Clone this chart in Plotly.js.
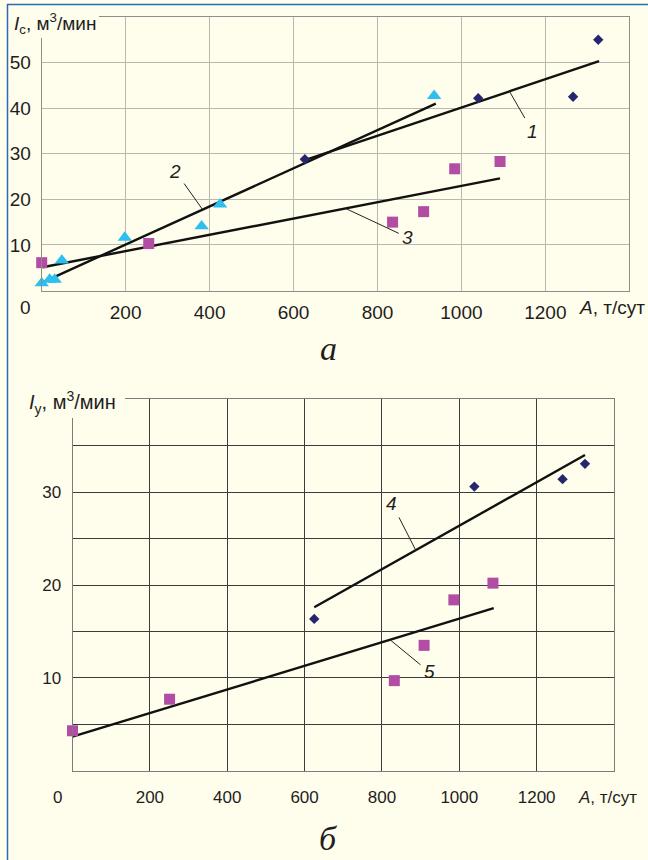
<!DOCTYPE html>
<html><head><meta charset="utf-8">
<script src="https://cdn.plot.ly/plotly-3.0.1.min.js"></script>
<style>html,body{margin:0;padding:0;background:#fffdeb;}</style>
</head><body><div id="chart" style="width:648px;height:860px;"></div>
<script>
// ---- Chart a (I_c) ----
const s1x = [627, 1040, 1266, 1326];
const s1y = [28.8, 42.2, 42.5, 55.0];
const s2x = [0, 19, 31, 48, 198, 381, 425, 935];
const s2y = [1.6, 2.4, 2.4, 6.6, 11.6, 14.1, 18.9, 42.7];
const s3x = [0, 255, 836, 910, 984, 1092];
const s3y = [6.1, 10.3, 15.0, 17.3, 26.7, 28.3];
const fit1x = [627, 1328], fit1y = [28.6, 50.3];
const fit2x = [2, 939],    fit2y = [1.8, 41.0];
const fit3x = [2, 1092],   fit3y = [5.1, 24.6];
// ---- Chart б (I_y) ----
const s4x = [625, 1039, 1267, 1325];
const s4y = [16.35, 30.6, 31.4, 33.05];
const s5x = [0, 251, 832, 909, 986, 1087];
const s5y = [4.3, 7.7, 9.7, 13.5, 18.4, 20.2];
const fit4x = [625, 1325], fit4y = [17.6, 34.0];
const fit5x = [0, 1089],   fit5y = [3.66, 17.5];
// ---- tick labels ----
const xTickVals = [0, 200, 400, 600, 800, 1000, 1200];
const xTickText = ['0', '200', '400', '600', '800', '1000', '1200'];
const yTickValsA = [10, 20, 30, 40, 50];
const yTickTextA = ['10', '20', '30', '40', '50'];
const yTickValsB = [10, 20, 30];
const yTickTextB = ['10', '20', '30'];
const yGridStepB = 5;
// curve labels: [label, x, y (on line), dx, dy]
const labelsA = [['1', 1115, 43.6, 23, 40], ['2', 383, 17.8, -27, -38], ['3', 724, 18.0, 62, 29]];
const labelsB = [['4', 888, 23.7, -24, -47], ['5', 821, 14.1, 39, 32]];

const BG = '#fffdeb';
const SANS = 'Liberation Sans, Arial, sans-serif';
const W = 648, H = 860;
const px = v => v / W, py = v => 1 - v / H;

const navy = '#26266e', cyan = '#2dbff0', magenta = '#b34ca3';
function mk(x, y, sym, size, color, xa, ya) {
  return {x, y, type: 'scatter', mode: 'markers', xaxis: xa, yaxis: ya, cliponaxis: false,
    marker: {symbol: sym, size, color}, showlegend: false, hoverinfo: 'skip'};
}
function ln(x, y, xa, ya) {
  return {x, y, type: 'scatter', mode: 'lines', xaxis: xa, yaxis: ya,
    line: {color: '#111', width: 2.4}, showlegend: false, hoverinfo: 'skip'};
}
const traces = [
  ln(fit1x, fit1y, 'x', 'y'), ln(fit2x, fit2y, 'x', 'y'), ln(fit3x, fit3y, 'x', 'y'),
  mk(s1x, s1y, 'diamond', 8, navy, 'x', 'y'),
  mk(s2x, s2y, 'triangle-up', 12.5, cyan, 'x', 'y'),
  mk(s3x, s3y, 'square', 11, magenta, 'x', 'y'),
  ln(fit4x, fit4y, 'x2', 'y2'), ln(fit5x, fit5y, 'x2', 'y2'),
  mk(s4x, s4y, 'diamond', 8, navy, 'x2', 'y2'),
  mk(s5x, s5y, 'square', 11, magenta, 'x2', 'y2')
];

function axis(domain, range, tv, tt, font, grid, line, anchor, standoff) {
  return {domain, range, tickmode: 'array', tickvals: tv, ticktext: tt, tickfont: font,
    showgrid: true, gridcolor: grid, gridwidth: 1, zeroline: false,
    showline: true, linecolor: line, linewidth: 1, mirror: true,
    ticks: '', anchor, fixedrange: true, ticklabelstandoff: standoff};
}
const fontA = {family: SANS, size: 19, color: '#1e1e1e'};
const fontB = {family: SANS, size: 17, color: '#1e1e1e'};

const ann = [];
// x "0" labels offset to the left of the axis
ann.push({xref: 'paper', yref: 'paper', x: px(25), y: py(307), text: xTickText[0], showarrow: false, font: fontA, xanchor: 'center', yanchor: 'middle'});
ann.push({xref: 'paper', yref: 'paper', x: px(57), y: py(797), text: xTickText[0], showarrow: false, font: fontB, xanchor: 'center', yanchor: 'middle'});
// axis titles
ann.push({xref: 'paper', yref: 'paper', x: px(577), y: py(307), text: '<i>A</i>, т/сут', showarrow: false, font: fontA, xanchor: 'left', yanchor: 'middle'});
ann.push({xref: 'paper', yref: 'paper', x: px(576), y: py(797), text: '<i>A</i>, т/сут', showarrow: false, font: fontB, xanchor: 'left', yanchor: 'middle'});
ann.push({xref: 'paper', yref: 'paper', x: px(12), y: py(23), text: '<i>I</i><sub>с</sub>, м<sup>3</sup>/мин', showarrow: false, font: {family: SANS, size: 19, color: '#1e1e1e'}, xanchor: 'left', yanchor: 'middle'});
ann.push({xref: 'paper', yref: 'paper', x: px(27), y: py(402), text: '<i>I</i><sub>у</sub>, м<sup>3</sup>/мин', showarrow: false, font: {family: SANS, size: 20, color: '#1e1e1e'}, xanchor: 'left', yanchor: 'middle'});
// captions
ann.push({xref: 'paper', yref: 'paper', x: px(328), y: py(348), text: '<i>а</i>', showarrow: false, font: {family: 'Liberation Serif, serif', size: 34, color: '#1e1e1e'}, xanchor: 'center', yanchor: 'middle'});
ann.push({xref: 'paper', yref: 'paper', x: px(328), y: py(838), text: '<i>б</i>', showarrow: false, font: {family: 'Liberation Serif, serif', size: 34, color: '#1e1e1e'}, xanchor: 'center', yanchor: 'middle'});
// curve labels with leader lines
function curveLabels(list, xa, ya, font) {
  list.forEach(([t, x, y, dx, dy]) => ann.push({xref: xa, yref: ya, x, y, ax: dx, ay: dy, text: '<i>' + t + '</i>',
    showarrow: true, arrowhead: 0, arrowwidth: 1, arrowcolor: '#222', standoff: 0, startstandoff: 2,
    font, xanchor: 'center', yanchor: 'middle'}));
}
curveLabels(labelsA, 'x', 'y', {family: SANS, size: 19, color: '#1e1e1e'});
curveLabels(labelsB, 'x2', 'y2', {family: SANS, size: 19, color: '#1e1e1e'});

const shapes = [
  // cream covers behind the axis titles
  {type: 'rect', xref: 'paper', yref: 'paper', x0: px(9), x1: px(99), y0: py(8), y1: py(38), fillcolor: BG, line: {width: 0}, layer: 'above'},
  {type: 'rect', xref: 'paper', yref: 'paper', x0: px(9), x1: px(125), y0: py(385), y1: py(418), fillcolor: BG, line: {width: 0}, layer: 'above'},
  // blue frame
  {type: 'line', xref: 'paper', yref: 'paper', x0: px(7), x1: 1, y0: py(4.5), y1: py(4.5), line: {color: '#2a6ab6', width: 1.5}},
  {type: 'line', xref: 'paper', yref: 'paper', x0: px(7.5), x1: px(7.5), y0: py(4), y1: 0, line: {color: '#2a6ab6', width: 1.5}}
];

const yaxis2 = axis([1 - 770.7 / H, 1 - 399.3 / H], [0, 40], yTickValsB, yTickTextB, fontB, '#3c3c3c', '#7c7c7a', 'x2', 7);
yaxis2.minor = {tickmode: 'linear', tick0: 0, dtick: yGridStepB, showgrid: true, gridcolor: '#3c3c3c', gridwidth: 1, ticks: ''};

const layout = {
  width: W, height: H, margin: {l: 0, r: 0, t: 0, b: 0},
  paper_bgcolor: BG, plot_bgcolor: BG, showlegend: false,
  xaxis: axis([px(41.7), px(629.3)], [0, 1400], xTickVals.slice(1), xTickText.slice(1), fontA, '#b8b8ae', '#8e8e8a', 'y', 5),
  yaxis: axis([1 - 290.5 / H, 1 - 17 / H], [0, 60], yTickValsA, yTickTextA, fontA, '#b8b8ae', '#8e8e8a', 'x', 6),
  xaxis2: axis([px(72.5), px(614)], [0, 1400], xTickVals.slice(1), xTickText.slice(1), fontB, '#3c3c3c', '#7c7c7a', 'y2', 11),
  yaxis2,
  annotations: ann, shapes
};
Plotly.newPlot('chart', traces, layout, {staticPlot: true, displayModeBar: false});
</script></body></html>
